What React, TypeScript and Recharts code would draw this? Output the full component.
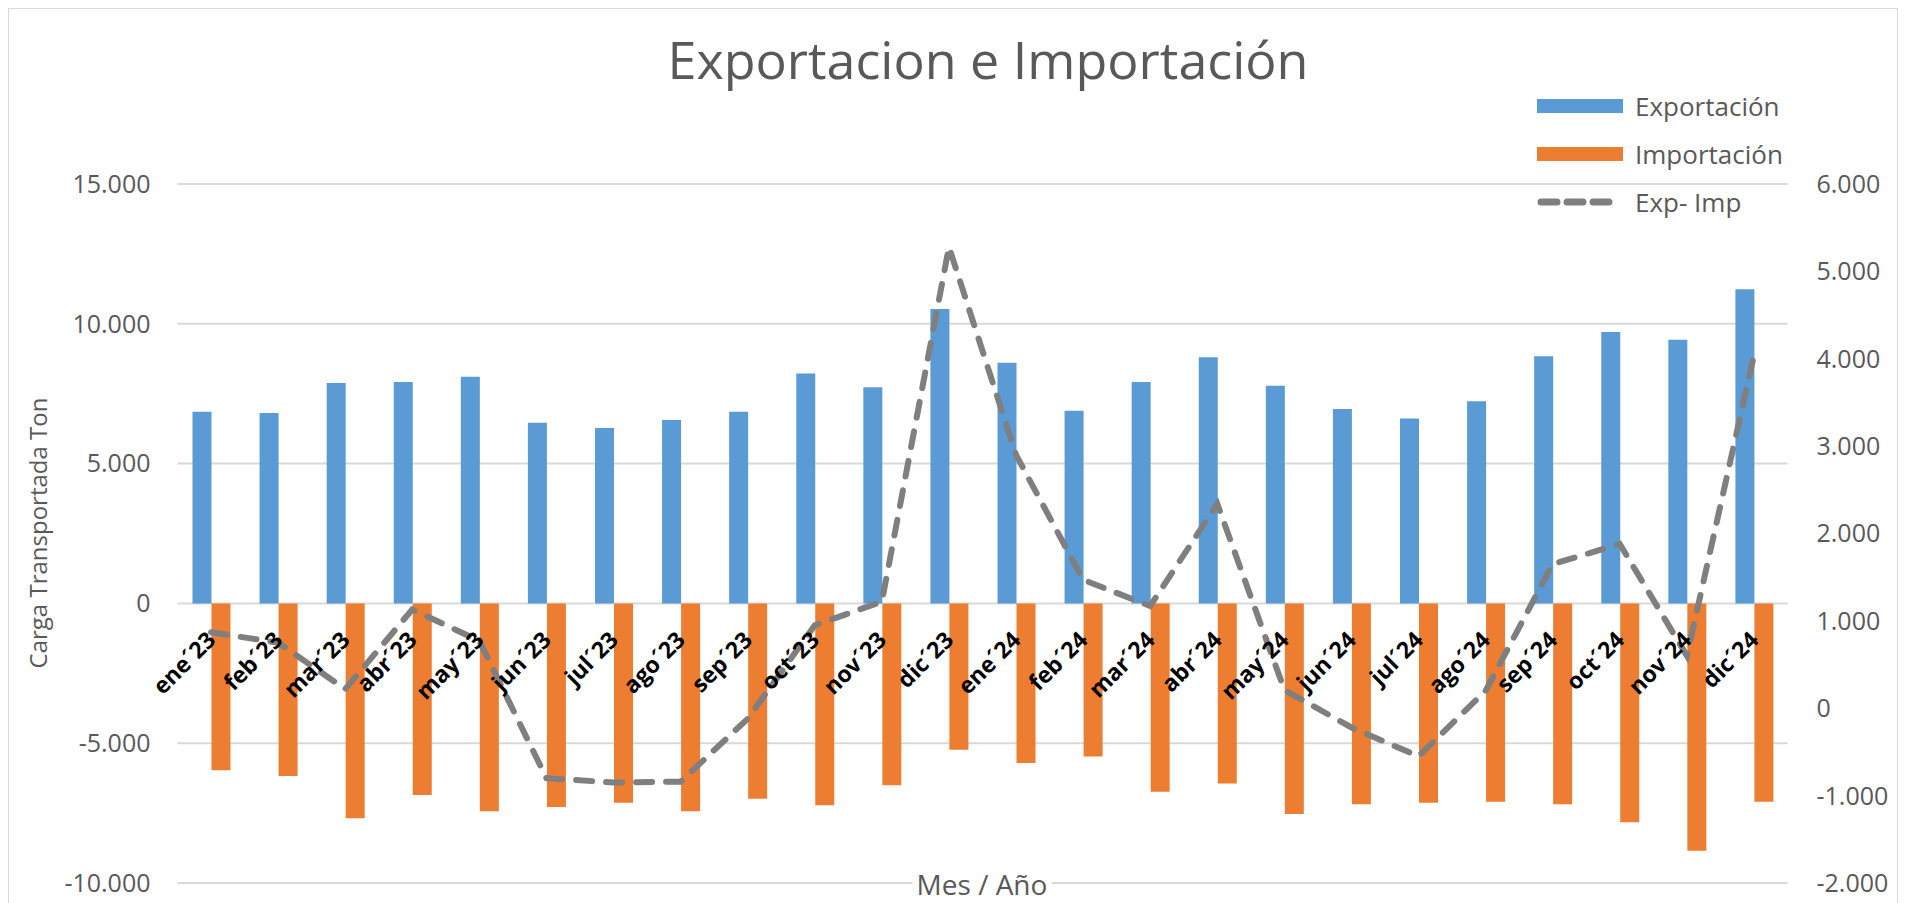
import React from 'react';
import { ComposedChart, Bar, Line, XAxis, YAxis, CartesianGrid, Legend } from 'recharts';

// monthly cargo, tons
const months = [
  'ene´23', 'feb´23', 'mar´23', 'abr´23', 'may´23', 'jun´23', 'jul´23', 'ago´23', 'sep´23', 'oct´23', 'nov´23', 'dic´23',
  'ene´24', 'feb´24', 'mar´24', 'abr´24', 'may´24', 'jun´24', 'jul´24', 'ago´24', 'sep´24', 'oct´24', 'nov´24', 'dic´24',
];
const exportacion = [
  6850, 6810, 7880, 7920, 8110, 6460, 6270, 6560, 6850, 8220, 7730, 10530,
  8610, 6890, 7920, 8800, 7780, 6950, 6610, 7230, 8840, 9710, 9430, 11240,
];
const importacion = [
  -5970, -6170, -7680, -6850, -7430, -7280, -7130, -7430, -6990, -7220, -6500, -5230,
  -5710, -5480, -6740, -6440, -7530, -7180, -7130, -7090, -7180, -7830, -8850, -7090,
];
const balance = [
  870, 750, 220, 1130, 770, -800, -850, -840, -120, 950, 1220, 5280,
  2900, 1470, 1170, 2340, 210, -220, -550, 200, 1650, 1880, 600, 4040,
];
const leftTicks = [-10000, -5000, 0, 5000, 10000, 15000];
const rightTicks = [-2000, -1000, 0, 1000, 2000, 3000, 4000, 5000, 6000];

const data = months.map((mes, i) => ({
  mes,
  exp: exportacion[i],
  imp: importacion[i],
  bal: balance[i],
}));

const FONT = "'Open Sans', sans-serif";
const GREY = '#595959';
const BLUE = '#5B9BD5';
const ORANGE = '#ED7D31';
const LINE = '#7F7F7F';

const W = 1888;
const H = 895;
const PLOT_TOP = 175;
const PLOT_H = 699;
const ZERO_Y = PLOT_TOP + PLOT_H * (15000 / 25000);

const fmt = (v: number) => String(v).replace(/\B(?=(\d{3})+(?!\d))/g, '.');

const MonthTick = (props: any) => {
  const { x, payload } = props;
  const tx = x + 6;
  const ty = ZERO_Y + 38;
  return (
    <text
      x={tx}
      y={ty}
      transform={`rotate(-45, ${tx}, ${ty})`}
      textAnchor="end"
      fontFamily={FONT}
      fontWeight={700}
      fontSize={23}
      fill="#000"
    >
      {payload.value}
    </text>
  );
};

const legendItems = [
  { name: 'Exportación', color: BLUE, kind: 'bar' },
  { name: 'Importación', color: ORANGE, kind: 'bar' },
  { name: 'Exp- Imp', color: LINE, kind: 'line' },
];

const LegendBox = () => (
  <div style={{ fontFamily: FONT }}>
    {legendItems.map((it) => (
      <div key={it.name} style={{ height: 48, display: 'flex', alignItems: 'center' }}>
        <svg width={86} height={16} style={{ marginRight: 12 }}>
          {it.kind === 'bar' ? (
            <rect x={0} y={1} width={86} height={14} fill={it.color} />
          ) : (
            <line x1={4} y1={8} x2={72} y2={8} stroke={it.color} strokeWidth={7}
              strokeDasharray="16 10" strokeLinecap="round" />
          )}
        </svg>
        <span style={{ fontSize: 26, color: GREY }}>{it.name}</span>
      </div>
    ))}
  </div>
);

const App: React.FC = () => {
  return (
    <div style={{ position: 'relative', width: W, height: H, border: '1px solid #D9D9D9', background: '#fff' }}>
      <div style={{
        position: 'absolute', top: 14, left: 979, transform: 'translateX(-50%)',
        fontFamily: FONT, fontSize: 52, lineHeight: 'normal', color: GREY, whiteSpace: 'nowrap',
      }}>
        Exportacion e Importación
      </div>

      <ComposedChart
        width={W}
        height={H}
        data={data}
        margin={{ top: PLOT_TOP, right: 9.5, bottom: 1, left: 68.5 }}
        barGap={0}
        barSize={19}
      >
        <CartesianGrid vertical={false} stroke="#D9D9D9" strokeWidth={2} />
        <XAxis dataKey="mes" height={20} axisLine={false} tickLine={false} tick={<MonthTick />} interval={0} />
        <YAxis
          domain={[-10000, 15000]}
          ticks={leftTicks}
          width={100}
          axisLine={false}
          tickLine={false}
          tickSize={0}
          tickMargin={27}
          tickFormatter={fmt}
          tick={{ fontFamily: FONT, fontSize: 25, fill: GREY }}
        />
        <YAxis
          yAxisId="right"
          orientation="right"
          domain={[-2000, 6000]}
          ticks={rightTicks}
          width={100}
          axisLine={false}
          tickLine={false}
          tickSize={0}
          tickMargin={29}
          tickFormatter={fmt}
          tick={{ fontFamily: FONT, fontSize: 25, fill: GREY, textAnchor: 'start' }}
        />
        <Legend
          layout="horizontal"
          verticalAlign="middle"
          align="center"
          content={<LegendBox />}
          wrapperStyle={{ top: 73, left: 1528, width: 280 }}
        />
        <Bar dataKey="exp" name="Exportación" fill={BLUE} isAnimationActive={false} />
        <Bar dataKey="imp" name="Importación" fill={ORANGE} isAnimationActive={false} />
        <Line
          yAxisId="right"
          type="linear"
          dataKey="bal"
          name="Exp- Imp"
          stroke={LINE}
          strokeWidth={6}
          strokeDasharray="16 14"
          strokeLinecap="round"
          dot={false}
          activeDot={false}
          isAnimationActive={false}
        />
      </ComposedChart>

      <div style={{
        position: 'absolute', left: 28, top: 524, transform: 'translate(-50%, -50%) rotate(-90deg)',
        fontFamily: FONT, fontSize: 24, color: GREY, whiteSpace: 'nowrap',
      }}>
        Carga Transportada Ton
      </div>

      <div style={{
        position: 'absolute', left: 973, top: 875, transform: 'translate(-50%, -50%)',
        fontFamily: FONT, fontSize: 28, lineHeight: 1.1, color: GREY, whiteSpace: 'nowrap',
        background: '#fff', padding: '0 4px',
      }}>
        Mes / Año
      </div>
    </div>
  );
};

export default App;
